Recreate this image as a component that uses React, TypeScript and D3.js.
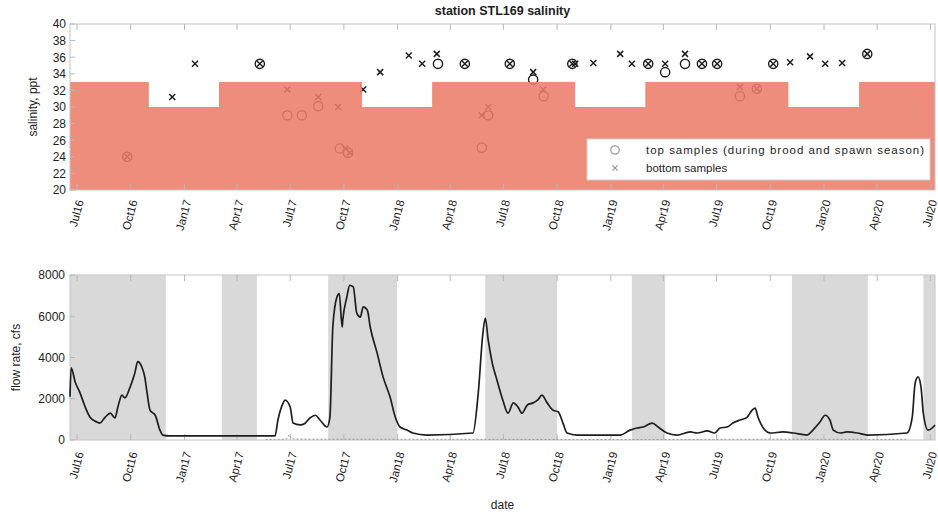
import React from 'react';
import * as d3 from 'd3';

// ---------- data ----------
const stepDates = ['2016-06-19', '2016-11-01', '2017-03-01', '2017-11-01', '2018-03-01', '2018-11-01', '2019-03-01', '2019-11-01', '2020-03-01', '2020-07-09'];
const stepValues = [33, 30, 33, 30, 33, 30, 33, 30, 33];

const topDates = ['2016-09-25', '2017-05-10', '2017-06-26', '2017-07-21', '2017-08-18', '2017-09-24', '2017-10-08', '2018-03-11', '2018-04-26', '2018-05-25', '2018-06-05', '2018-07-12', '2018-08-21', '2018-09-08', '2018-10-27', '2019-03-06', '2019-04-04', '2019-05-08', '2019-06-06', '2019-07-02', '2019-08-10', '2019-09-08', '2019-10-06', '2020-03-15'];
const topSalinity = [24, 35.2, 29, 29, 30.1, 25, 24.5, 35.2, 35.2, 25.1, 29, 35.2, 33.3, 31.3, 35.2, 35.2, 34.2, 35.2, 35.2, 35.2, 31.3, 32.2, 35.2, 36.4];

const bottomDates = ['2016-09-25', '2016-12-11', '2017-01-19', '2017-05-10', '2017-06-26', '2017-08-18', '2017-09-21', '2017-10-03', '2017-10-11', '2017-11-03', '2017-12-02', '2018-01-20', '2018-02-12', '2018-03-09', '2018-04-26', '2018-05-25', '2018-06-05', '2018-07-12', '2018-08-21', '2018-09-07', '2018-10-27', '2018-11-01', '2018-12-02', '2019-01-17', '2019-02-06', '2019-03-06', '2019-04-04', '2019-05-08', '2019-06-06', '2019-07-02', '2019-08-10', '2019-09-08', '2019-10-06', '2019-11-04', '2019-12-08', '2020-01-03', '2020-02-01', '2020-03-15'];
const bottomSalinity = [24, 31.2, 35.2, 35.2, 32.1, 31.2, 30, 25, 24.5, 32.1, 34.2, 36.2, 35.2, 36.4, 35.2, 29, 30, 35.2, 34.2, 32.1, 35.2, 35.2, 35.3, 36.4, 35.2, 35.2, 35.2, 36.4, 35.2, 35.2, 32.4, 32.2, 35.2, 35.4, 36.1, 35.2, 35.3, 36.4];

const flowDates = ['2016-06-19', '2016-06-21', '2016-06-28', '2016-07-06', '2016-07-15', '2016-07-23', '2016-08-04', '2016-08-09', '2016-08-18', '2016-08-27', '2016-09-04', '2016-09-09', '2016-09-16', '2016-09-21', '2016-09-30', '2016-10-08', '2016-10-13', '2016-10-20', '2016-10-25', '2016-10-29', '2016-11-03', '2016-11-12', '2016-11-20', '2016-11-25', '2016-12-07', '2017-06-05', '2017-06-10', '2017-06-19', '2017-06-22', '2017-07-01', '2017-07-06', '2017-07-18', '2017-07-26', '2017-08-04', '2017-08-13', '2017-08-21', '2017-09-02', '2017-09-07', '2017-09-12', '2017-09-19', '2017-09-23', '2017-09-28', '2017-09-29', '2017-10-06', '2017-10-11', '2017-10-17', '2017-10-23', '2017-10-29', '2017-11-03', '2017-11-10', '2017-11-15', '2017-11-27', '2017-12-07', '2017-12-19', '2017-12-28', '2018-01-05', '2018-01-17', '2018-01-27', '2018-02-20', '2018-05-10', '2018-05-19', '2018-05-27', '2018-05-31', '2018-06-05', '2018-06-12', '2018-06-20', '2018-06-30', '2018-07-09', '2018-07-18', '2018-07-26', '2018-08-02', '2018-08-11', '2018-08-21', '2018-08-29', '2018-09-05', '2018-09-14', '2018-09-24', '2018-10-03', '2018-10-11', '2018-10-18', '2018-11-04', '2019-01-17', '2019-02-03', '2019-02-15', '2019-02-25', '2019-03-13', '2019-03-23', '2019-04-07', '2019-04-24', '2019-05-17', '2019-05-29', '2019-06-15', '2019-06-28', '2019-07-07', '2019-07-19', '2019-07-29', '2019-08-10', '2019-08-22', '2019-08-31', '2019-09-05', '2019-09-10', '2019-09-19', '2019-10-01', '2019-10-23', '2019-11-09', '2019-12-03', '2019-12-13', '2019-12-25', '2020-01-03', '2020-01-11', '2020-01-17', '2020-01-29', '2020-02-09', '2020-02-27', '2020-03-15', '2020-05-22', '2020-05-31', '2020-06-05', '2020-06-10', '2020-06-15', '2020-06-19', '2020-06-27', '2020-07-06', '2020-07-09'];
const flowValues = [2100, 3500, 2800, 2300, 1600, 1120, 870, 820, 1100, 1300, 1070, 1600, 2180, 2040, 2570, 3250, 3800, 3540, 3060, 2280, 1450, 1200, 480, 240, 200, 200, 970, 1800, 1940, 1600, 820, 730, 800, 1070, 1200, 970, 630, 1100, 5480, 6930, 7100, 5480, 5800, 6930, 7500, 7420, 6150, 5960, 6450, 6300, 5480, 4200, 3060, 2080, 1100, 630, 480, 340, 240, 340, 2280, 5190, 5910, 4850, 3730, 2910, 1940, 1300, 1800, 1600, 1300, 1700, 1800, 1940, 2180, 1800, 1450, 1360, 820, 340, 240, 240, 480, 580, 630, 820, 630, 340, 240, 390, 340, 440, 340, 580, 630, 820, 970, 1100, 1450, 1550, 1100, 580, 340, 390, 340, 240, 480, 870, 1200, 970, 480, 340, 390, 340, 240, 340, 1100, 2760, 3060, 2570, 1300, 480, 630, 730];

const flow2Dates = ['2017-05-20', '2017-06-20', '2017-06-26', '2017-06-29', '2017-07-03', '2017-07-25', '2019-03-25', '2019-07-01', '2019-10-01', '2020-01-01', '2020-05-25'];
const flow2Values = [20, 40, 60, 260, 60, 40, 20, 30, 40, 30, 30];

const bandStarts = ['2016-06-19', '2017-03-06', '2017-09-04', '2018-05-31', '2019-02-06', '2019-11-07', '2020-06-19'];
const bandEnds = ['2016-11-30', '2017-05-05', '2017-12-31', '2018-10-01', '2019-04-04', '2020-03-16', '2020-07-09'];

const salinityTicks = [20, 22, 24, 26, 28, 30, 32, 34, 36, 38, 40];
const flowTicks = [0, 2000, 4000, 6000, 8000];

// ---------- layout ----------
const W = 938, H = 514;
const L = 70, R = 935;
const T1 = 24, B1 = 190;
const T2 = 275, B2 = 440;
const FONT = '"Liberation Sans", Arial, Helvetica, sans-serif';
const INK = '#1e1e1e';

const parse = d3.timeParse('%Y-%m-%d');
const fmt = d3.timeFormat('%b%y');

export default function App() {
  const x = d3.scaleTime().domain([parse('2016-06-19')!, parse('2020-07-09')!]).range([L, R]);
  const y1 = d3.scaleLinear().domain([20, 40]).range([B1, T1]);
  const y2 = d3.scaleLinear().domain([0, 8000]).range([B2, T2]);
  const ticks = x.ticks(d3.timeMonth.every(3)!);

  const stepData = stepValues.map((v, i) => ({ a: parse(stepDates[i])!, b: parse(stepDates[i + 1])!, v }));
  const area = d3.area<{ d: Date; v: number }>().x(d => x(d.d)).y0(y1(20)).y1(d => y1(d.v)).curve(d3.curveStepAfter);
  const areaPts: { d: Date; v: number }[] = stepData.map(s => ({ d: s.a, v: s.v }));
  areaPts.push({ d: stepData[stepData.length - 1].b, v: stepData[stepData.length - 1].v });

  const flowPts = flowDates.map((d, i) => ({ d: parse(d)!, v: flowValues[i] }));
  const line = d3.line<{ d: Date; v: number }>().x(p => x(p.d)).y(p => y2(p.v)).curve(d3.curveMonotoneX);
  const flow2Pts = flow2Dates.map((d, i) => ({ d: parse(d)!, v: flow2Values[i] }));
  const line2 = d3.line<{ d: Date; v: number }>().x(p => x(p.d)).y(p => y2(p.v));

  const xMark = (cx: number, cy: number, s: number, color: string, key: string, w = 1.5) => (
    <path key={key} d={`M${cx - s},${cy - s}L${cx + s},${cy + s}M${cx - s},${cy + s}L${cx + s},${cy - s}`} stroke={color} strokeWidth={w} fill="none" />
  );

  const tickLabels = (yy: number) =>
    ticks.map((t, i) => (
      <text key={i} transform={`translate(${x(t) + 3},${yy}) rotate(-75)`} textAnchor="end" dy="0.35em" fontSize={11.5} fontFamily={FONT} fill={INK}>
        {fmt(t)}
      </text>
    ));

  const frameTicks = (top: number, bottom: number) =>
    ticks.map((t, i) => (
      <g key={i} stroke="#b8b8b8" strokeWidth={1}>
        <line x1={x(t)} x2={x(t)} y1={top} y2={top + 6} />
        <line x1={x(t)} x2={x(t)} y1={bottom} y2={bottom - 6} />
      </g>
    ));

  return (
    <svg width={W} height={H} style={{ position: 'absolute', left: 0, top: 0, background: '#fff' }}>
      {/* ---------- top panel ---------- */}
      <text x={(L + R) / 2} y={15} textAnchor="middle" fontSize={12.5} fontWeight="bold" fontFamily={FONT} fill={INK}>
        station STL169 salinity
      </text>
      <g>
        {topDates.map((d, i) => (
          <circle key={'c' + i} cx={x(parse(d)!)} cy={y1(topSalinity[i])} r={4.6} fill="none" stroke={INK} strokeWidth={1.4} />
        ))}
        {bottomDates.map((d, i) => xMark(x(parse(d)!), y1(bottomSalinity[i]), 3, INK, 'x' + i))}
      </g>
      <path d={area(areaPts) || ''} fill="#EC7D69" fillOpacity={0.88} />
      <rect x={L} y={T1} width={R - L} height={B1 - T1} fill="none" stroke="#c4c4c4" strokeWidth={1} />
      {frameTicks(T1, B1)}
      {salinityTicks.map(v => (
        <g key={v}>
          <line x1={L} x2={L + 5} y1={y1(v)} y2={y1(v)} stroke="#b8b8b8" />
          <text x={L - 4} y={y1(v)} dy="0.36em" textAnchor="end" fontSize={12} fontFamily={FONT} fill={INK}>
            {v}
          </text>
        </g>
      ))}
      <text transform={`translate(37,${(T1 + B1) / 2}) rotate(-90)`} textAnchor="middle" fontSize={12} fontFamily={FONT} fill={INK}>
        salinity, ppt
      </text>
      {tickLabels(200)}

      {/* legend */}
      <rect x={587} y={139} width={343} height={41} fill="#fff" stroke="#cfcfcf" strokeWidth={1} />
      <circle cx={615} cy={150} r={4.2} fill="none" stroke="#9a9a9a" strokeWidth={1.3} />
      <text x={646} y={150} dy="0.35em" fontSize={11.5} fontFamily={FONT} fill={INK} textLength={278}>
        top samples (during brood and spawn season)
      </text>
      {xMark(615, 168, 2.6, '#9a9a9a', 'lx', 1.3)}
      <text x={646} y={168} dy="0.35em" fontSize={11.5} fontFamily={FONT} fill={INK}>
        bottom samples
      </text>

      {/* ---------- bottom panel ---------- */}
      {bandStarts.map((s, i) => (
        <rect key={i} x={x(parse(s)!)} y={T2} width={x(parse(bandEnds[i])!) - x(parse(s)!)} height={B2 - T2} fill="#d9d9d9" />
      ))}
      <rect x={L} y={T2} width={R - L} height={B2 - T2} fill="none" stroke="#c4c4c4" strokeWidth={1} />
      {frameTicks(T2, B2)}
      <path d={line2(flow2Pts) || ''} fill="none" stroke="#9a9a9a" strokeWidth={1} strokeDasharray="2,2" />
      <path d={line(flowPts) || ''} fill="none" stroke={INK} strokeWidth={1.7} />
      {flowTicks.map(v => (
        <g key={v}>
          <line x1={L} x2={L + 5} y1={y2(v)} y2={y2(v)} stroke="#b8b8b8" />
          <text x={L - 5} y={y2(v)} dy="0.36em" textAnchor="end" fontSize={12} fontFamily={FONT} fill={INK}>
            {v}
          </text>
        </g>
      ))}
      <text transform={`translate(20,${(T2 + B2) / 2}) rotate(-90)`} textAnchor="middle" fontSize={12} fontFamily={FONT} fill={INK}>
        flow rate, cfs
      </text>
      {tickLabels(452)}
      <text x={(L + R) / 2} y={509} textAnchor="middle" fontSize={12} fontFamily={FONT} fill={INK}>
        date
      </text>
    </svg>
  );
}
